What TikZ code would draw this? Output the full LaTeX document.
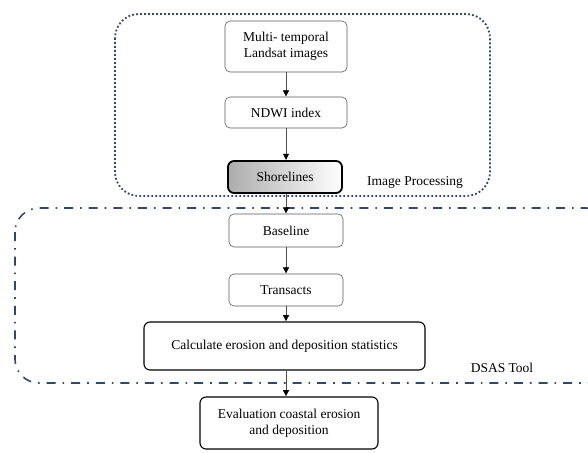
\documentclass[tikz,border=0pt]{standalone}
\usepackage{fontspec}
\setmainfont{Liberation Serif}
\usepackage{tikz}
\usetikzlibrary{arrows.meta}

\definecolor{frameblue}{RGB}{47,72,108}

\begin{document}
\begin{tikzpicture}[x=1pt, y=-1pt,
    font=\fontsize{13.5}{16}\selectfont,
    stepbox/.style={draw=gray!70!black, line width=0.6pt, rounded corners=5pt, align=center, inner sep=0pt},
    boldbox/.style={draw=black, line width=1.1pt, rounded corners=6pt, align=center, inner sep=0pt},
    flow/.style={draw=gray!60!black, line width=0.6pt, -{Triangle[width=6pt,length=6pt,color=black]}, shorten >=0.3pt}]
  \useasboundingbox (0,0) rectangle (588,452);
  \clip (0,0) rectangle (588,452);

  % ---- group frames ----
  \draw[frameblue, line width=1.8pt, dash pattern=on 1.8pt off 2.2pt, rounded corners=24pt]
    (115,14) rectangle (490,196);
  \draw[frameblue, line width=1.6pt, dash pattern=on 9pt off 7pt on 1.6pt off 7pt, rounded corners=24pt]
    (15,208) rectangle (610,383);
  \node (lblimg) at (415,182) {Image Processing};
  \node (lbldsas) at (502,368) {DSAS Tool};

  % ---- steps ----
  \node[stepbox, minimum width=122pt, minimum height=51pt] (multi) at (286,46.5) {Multi- temporal\\Landsat images};
  \node[stepbox, minimum width=122pt, minimum height=31pt] (ndwi) at (286,112.5) {NDWI index};
  \node[boldbox, line width=1.8pt, minimum width=114pt, minimum height=32pt,
        left color=gray!65, right color=white] (shore) at (285,177) {Shorelines};
  \node[stepbox, minimum width=114pt, minimum height=33pt] (base) at (286,230.5) {Baseline};
  \node[stepbox, minimum width=114pt, minimum height=32pt] (trans) at (286,290) {Transacts};
  \node[boldbox, minimum width=281pt, minimum height=48pt] (calc) at (284.5,346) {Calculate erosion and deposition statistics};
  \node[boldbox, minimum width=178pt, minimum height=52pt] (eval) at (289,423) {Evaluation coastal erosion\\and deposition};

  % ---- arrows ----
  \draw[flow] (multi.south -| ndwi.north) -- (ndwi.north);
  \draw[flow] (ndwi.south) -- (ndwi.south |- shore.north);
  \draw[flow] (shore.south -| base.north) -- (base.north);
  \draw[flow] (base.south) -- (trans.north);
  \draw[flow] (trans.south) -- (trans.south |- calc.north);
  \draw[flow] (calc.south -| trans.south) -- (trans.south |- eval.north);
\end{tikzpicture}
\end{document}
